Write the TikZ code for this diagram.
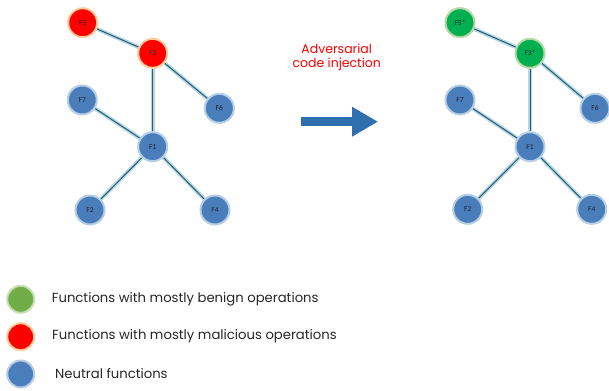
\documentclass[tikz,border=0pt]{standalone}
\usepackage{fontspec}
\setmainfont{Poppins}
\newfontfamily\lblfont{Carlito}
\usetikzlibrary{arrows.meta,backgrounds}
\definecolor{nblue}{HTML}{4A7EBB}
\definecolor{nred}{HTML}{FF0000}
\definecolor{ngreen}{HTML}{00B050}
\definecolor{lgreen}{HTML}{70AD47}
\definecolor{edgedark}{HTML}{2E5A6E}
\definecolor{edgeglow}{HTML}{B0D8E8}
\definecolor{arrowblue}{HTML}{2E6FB0}
\definecolor{lbltext}{HTML}{1A2230}
\tikzset{
  fn/.style={circle, minimum size=29pt, inner sep=0pt, font=\lblfont\fontsize{7.5}{8}\selectfont, text=lbltext},
  bluefn/.style={fn, fill=nblue, draw=cyan!30!nblue!40, line width=2pt},
  redfn/.style={fn, fill=nred, draw=orange!40, line width=2pt},
  greenfn/.style={fn, fill=ngreen, draw=lgreen!50, line width=2pt},
  edge/.style={draw=edgedark, line width=1pt, preaction={draw=edgeglow, line width=4pt}},
  legdot/.style={circle, minimum size=27pt, inner sep=0pt, line width=2pt},
  legtxt/.style={anchor=west, inner sep=0pt, font=\fontsize{13.2}{15}\selectfont, text=black!85},
}
\begin{document}
\begin{tikzpicture}[x=1pt,y=-1pt]
\useasboundingbox (0,0) rectangle (609,390);
% left graph
\node[redfn] (F5) at (82.7,22.7) {F5};
\node[redfn] (F3) at (152.7,53.3) {F3};
\node[bluefn] (F7) at (82.3,100) {F7};
\node[bluefn] (F6) at (219.3,108.3) {F6};
\node[bluefn] (F1) at (152.7,146.7) {F1};
\node[bluefn] (F2) at (90,210) {F2};
\node[bluefn] (F4) at (215,210) {F4};
% right graph
\node[greenfn] (G5) at (460,22.7) {F5*};
\node[greenfn] (G3) at (530,53.3) {F3*};
\node[bluefn] (G7) at (460,100) {F7};
\node[bluefn] (G6) at (595,108.3) {F6};
\node[bluefn] (G1) at (530,146.7) {F1};
\node[bluefn] (G2) at (467.7,209.3) {F2};
\node[bluefn] (G4) at (591.7,209.3) {F4};
% edges
\begin{scope}[on background layer]
\path[edge] (F5) -- (F3);
\path[edge] (F3) -- (F6);
\path[edge] (F3) -- (F1);
\path[edge] (F7) -- (F1);
\path[edge] (F1) -- (F2);
\path[edge] (F1) -- (F4);
\path[edge] (G5) -- (G3);
\path[edge] (G3) -- (G6);
\path[edge] (G3) -- (G1);
\path[edge] (G7) -- (G1);
\path[edge] (G1) -- (G2);
\path[edge] (G1) -- (G4);
\end{scope}
% arrow
\coordinate (as) at (301,121.7);
\coordinate (ae) at (378,121.7);
\draw[arrowblue, line width=9pt, -{Triangle[length=26pt, width=28pt]}] (as) -- (ae);
\node[text=nred, align=center, font=\fontsize{12.5}{14.5}\selectfont] (lbl) at (336.7,57.5) {Adversarial\\code injection};
% legend
\node[legdot, fill=lgreen, draw=lgreen!40] (L1) at (20.7,299.3) {};
\node[legdot, fill=nred, draw=orange!40] (L2) at (20.7,336.7) {};
\node[legdot, fill=nblue, draw=nblue!40] (L3) at (20.7,374) {};
\node[legtxt] (T1) at (51.7,299) {Functions with mostly benign operations};
\node[legtxt] (T2) at (52,336.5) {Functions with mostly malicious operations};
\node[legtxt] (T3) at (55,374) {Neutral functions};
\end{tikzpicture}
\end{document}
